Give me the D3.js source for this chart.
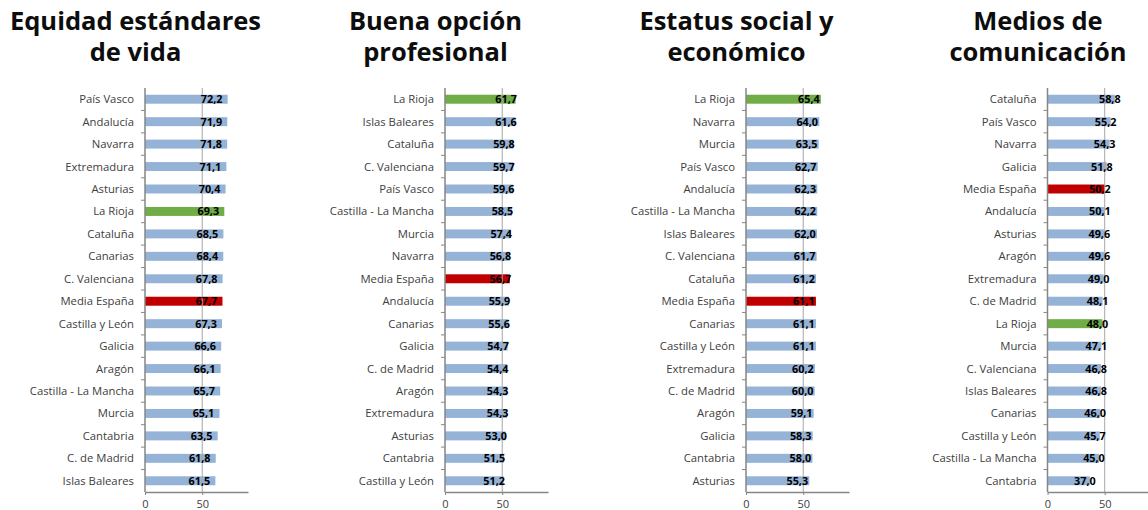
<!DOCTYPE html>
<html lang="es">
<head>
<meta charset="UTF-8">
<title>Valoración por comunidades</title>
<script src="https://cdn.jsdelivr.net/npm/d3@7"></script>
<style>
  body { margin: 0; background: #fff; }
  svg { display: block; font-family: "Open Sans", sans-serif; }
</style>
</head>
<body>
<div id="chart"></div>
<script>
// datos de cada panel
const equidadRegiones = ["País Vasco", "Andalucía", "Navarra", "Extremadura", "Asturias", "La Rioja",
  "Cataluña", "Canarias", "C. Valenciana", "Media España", "Castilla y León", "Galicia", "Aragón",
  "Castilla - La Mancha", "Murcia", "Cantabria", "C. de Madrid", "Islas Baleares"];
const equidadValores = [72.2, 71.9, 71.8, 71.1, 70.4, 69.3, 68.5, 68.4, 67.8, 67.7, 67.3, 66.6, 66.1,
  65.7, 65.1, 63.5, 61.8, 61.5];

const profesionRegiones = ["La Rioja", "Islas Baleares", "Cataluña", "C. Valenciana", "País Vasco",
  "Castilla - La Mancha", "Murcia", "Navarra", "Media España", "Andalucía", "Canarias", "Galicia",
  "C. de Madrid", "Aragón", "Extremadura", "Asturias", "Cantabria", "Castilla y León"];
const profesionValores = [61.7, 61.6, 59.8, 59.7, 59.6, 58.5, 57.4, 56.8, 56.7, 55.9, 55.6, 54.7,
  54.4, 54.3, 54.3, 53.0, 51.5, 51.2];

const estatusRegiones = ["La Rioja", "Navarra", "Murcia", "País Vasco", "Andalucía", "Castilla - La Mancha",
  "Islas Baleares", "C. Valenciana", "Cataluña", "Media España", "Canarias", "Castilla y León",
  "Extremadura", "C. de Madrid", "Aragón", "Galicia", "Cantabria", "Asturias"];
const estatusValores = [65.4, 64.0, 63.5, 62.7, 62.3, 62.2, 62.0, 61.7, 61.2, 61.1, 61.1, 61.1,
  60.2, 60.0, 59.1, 58.3, 58.0, 55.3];

const mediosRegiones = ["Cataluña", "País Vasco", "Navarra", "Galicia", "Media España", "Andalucía",
  "Asturias", "Aragón", "Extremadura", "C. de Madrid", "La Rioja", "Murcia", "C. Valenciana",
  "Islas Baleares", "Canarias", "Castilla y León", "Castilla - La Mancha", "Cantabria"];
const mediosValores = [58.8, 55.2, 54.3, 51.8, 50.2, 50.1, 49.6, 49.6, 49.0, 48.1, 48.0, 47.1, 46.8,
  46.8, 46.0, 45.7, 45.0, 37.0];

const titulos = [
  ["Equidad estándares", "de vida"],
  ["Buena opción", "profesional"],
  ["Estatus social y", "económico"],
  ["Medios de", "comunicación"]
];
const ejeTicks = [0, 50];
const ejeMax = 90;

const W = 1148, H = 510;
const plotTop = 88, plotBottom = 492, ejeAncho = 103;

// layout de cada panel: origen del eje y desplazamiento de la etiqueta
const paneles = [
  { titulo: titulos[0], regiones: equidadRegiones, valores: equidadValores, x0: 145, dx: 16 },
  { titulo: titulos[1], regiones: profesionRegiones, valores: profesionValores, x0: 445, dx: 9.5 },
  { titulo: titulos[2], regiones: estatusRegiones, valores: estatusValores, x0: 746, dx: 12 },
  { titulo: titulos[3], regiones: mediosRegiones, valores: mediosValores, x0: 1047.5, dx: 5 }
];

const es = d3.formatLocale({ decimal: ",", thousands: ".", grouping: [3], currency: ["", "€"] });
const fmt = es.format(".1f");

function colorBarra(region) {
  if (region === "La Rioja") return "#70ad47";
  if (region === "Media España") return "#c00000";
  return "#95b3d7";
}

const svg = d3.select("#chart").append("svg")
  .attr("width", W)
  .attr("height", H);

svg.append("rect").attr("width", W).attr("height", H).attr("fill", "#fff");

paneles.forEach(function (p) {
  const g = svg.append("g");

  const x = d3.scaleLinear().domain([0, ejeMax]).range([p.x0, p.x0 + ejeAncho]);
  const y = d3.scaleBand().domain(p.regiones).range([plotTop, plotBottom])
    .paddingInner(0.6).paddingOuter(0.3);
  const paso = y.step();

  // titulo en dos lineas
  g.append("text")
    .attr("x", p.x0 - 9.5)
    .attr("text-anchor", "middle")
    .style("font-size", "25.5px")
    .style("font-weight", 700)
    .style("fill", "#0d0d0d")
    .selectAll("tspan")
    .data(p.titulo)
    .join("tspan")
    .attr("x", p.x0 - 9.5)
    .attr("y", (d, i) => 29.5 + i * 31.4)
    .text(d => d);

  const datos = p.regiones.map((r, i) => ({ region: r, valor: p.valores[i] }));

  // barras
  g.selectAll("rect.barra")
    .data(datos)
    .join("rect")
    .attr("class", "barra")
    .attr("x", x(0))
    .attr("y", d => y(d.region))
    .attr("width", d => x(d.valor) - x(0))
    .attr("height", y.bandwidth())
    .attr("fill", d => colorBarra(d.region));

  // linea de referencia en 50
  g.append("line")
    .attr("x1", x(50)).attr("x2", x(50))
    .attr("y1", plotTop).attr("y2", plotBottom)
    .attr("stroke", "#a6a6a6")
    .attr("stroke-width", 1);

  // eje x
  const ejeX = g.append("g")
    .attr("transform", "translate(0," + plotBottom + ")")
    .call(d3.axisBottom(x).tickValues(ejeTicks).tickSize(3).tickSizeOuter(0).tickFormat(d3.format("d")));
  ejeX.select(".domain").attr("stroke", "#868686").attr("stroke-width", 1.5);
  ejeX.selectAll(".tick line").attr("stroke", "#868686");
  ejeX.selectAll(".tick text")
    .attr("y", 8.5)
    .attr("dy", "0.71em")
    .style("font-family", "'Open Sans', sans-serif")
    .style("font-size", "11px")
    .style("fill", "#404040");

  // eje y con marcas entre categorias
  g.append("line")
    .attr("x1", p.x0).attr("x2", p.x0)
    .attr("y1", plotTop).attr("y2", plotBottom)
    .attr("stroke", "#868686")
    .attr("stroke-width", 1.5);
  g.selectAll("line.marca")
    .data(p.regiones.slice(1))
    .join("line")
    .attr("class", "marca")
    .attr("x1", p.x0 - 4).attr("x2", p.x0)
    .attr("y1", d => y(d) - paso * 0.3)
    .attr("y2", d => y(d) - paso * 0.3)
    .attr("stroke", "#868686");

  // nombres de comunidades
  g.selectAll("text.region")
    .data(datos)
    .join("text")
    .attr("class", "region")
    .attr("x", p.x0 - 11)
    .attr("y", d => y(d.region) + y.bandwidth() / 2)
    .attr("dy", "0.35em")
    .attr("text-anchor", "end")
    .style("font-size", "11.3px")
    .style("fill", "#404040")
    .text(d => d.region);

  // valores
  g.selectAll("text.valor")
    .data(datos)
    .join("text")
    .attr("class", "valor")
    .attr("x", d => x(d.valor) - p.dx)
    .attr("y", d => y(d.region) + y.bandwidth() / 2)
    .attr("dy", "0.37em")
    .attr("text-anchor", "middle")
    .style("font-size", "10.8px")
    .style("font-weight", 700)
    .style("fill", "#000")
    .text(d => fmt(d.valor));
});
</script>
</body>
</html>
